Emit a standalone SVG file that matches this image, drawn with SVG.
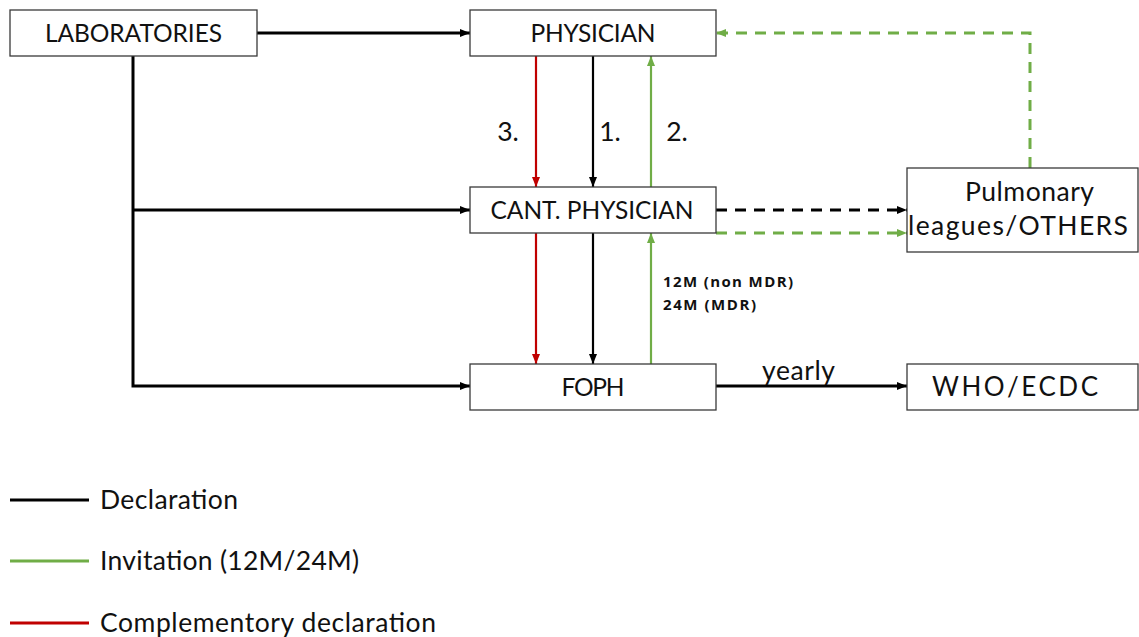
<svg xmlns="http://www.w3.org/2000/svg" width="1139" height="637" viewBox="0 0 1139 637">
<style>
.box{fill:#fff;stroke:#3a3a3a;stroke-width:1.3}
.t{font-family:Lato,"Liberation Sans",sans-serif;font-size:24.5px;fill:#111;text-anchor:middle}
.tm{font-family:Lato,"Liberation Sans",sans-serif;font-size:26.5px;fill:#111;text-anchor:middle}
.lt{font-family:Lato,"Liberation Sans",sans-serif;font-size:26.5px;fill:#111}
.s{font-family:"Open Sans","Liberation Sans",sans-serif;font-size:15px;font-weight:bold;fill:#111}
.k{stroke:#000;fill:none}
.g{stroke:#70ad47;fill:none}
.r{stroke:#c00000;fill:none}
</style>
<defs>
<marker id="ak" viewBox="0 0 10 10" refX="10" refY="5" markerWidth="10" markerHeight="10" markerUnits="userSpaceOnUse" orient="auto"><path d="M0,1 L10,5 L0,9 z" fill="#000"/></marker>
<marker id="ag" viewBox="0 0 10 10" refX="10" refY="5" markerWidth="10" markerHeight="10" markerUnits="userSpaceOnUse" orient="auto"><path d="M0,1 L10,5 L0,9 z" fill="#70ad47"/></marker>
<marker id="ar" viewBox="0 0 10 10" refX="10" refY="5" markerWidth="10" markerHeight="10" markerUnits="userSpaceOnUse" orient="auto"><path d="M0,1 L10,5 L0,9 z" fill="#c00000"/></marker>
</defs>
<g id="connectors">
<path class="k" stroke-width="3" d="M257,33 H470" marker-end="url(#ak)"/>
<path class="k" stroke-width="3" d="M133,56 V386 H470" marker-end="url(#ak)"/>
<path class="k" stroke-width="3" d="M133,210 H470" marker-end="url(#ak)"/>
<path class="r" stroke-width="2.2" d="M536,56 V187" marker-end="url(#ar)"/>
<path class="k" stroke-width="2.2" d="M593,56 V187" marker-end="url(#ak)"/>
<path class="g" stroke-width="2.2" d="M651,187 V56" marker-end="url(#ag)"/>
<path class="r" stroke-width="2.2" d="M536,233 V364" marker-end="url(#ar)"/>
<path class="k" stroke-width="2.2" d="M593,233 V364" marker-end="url(#ak)"/>
<path class="g" stroke-width="2.2" d="M651,364 V233" marker-end="url(#ag)"/>
<path class="k" stroke-width="3" stroke-dasharray="11,8" d="M716,210 H907" marker-end="url(#ak)"/>
<path class="g" stroke-width="3" stroke-dasharray="11,8" d="M716,233 H907" marker-end="url(#ag)"/>
<path class="g" stroke-width="3" stroke-dasharray="11,8" d="M1030,168 V33 H716" marker-end="url(#ag)"/>
<path class="k" stroke-width="3" d="M716,386 H907" marker-end="url(#ak)"/>
<text class="lt" x="508" y="141" text-anchor="middle">3.</text>
<text class="lt" x="610" y="141" text-anchor="middle">1.</text>
<text class="lt" x="677" y="141" text-anchor="middle">2.</text>
<text class="s" x="663" y="287" textLength="130" lengthAdjust="spacing">12M (non MDR)</text>
<text class="s" x="663" y="310" textLength="93" lengthAdjust="spacing">24M (MDR)</text>
<text class="lt" x="762" y="380" textLength="73" lengthAdjust="spacing">yearly</text>
</g>
<g id="laboratories"><rect class="box" x="10" y="10" width="247" height="46"/><text class="t" x="133.5" y="42" textLength="177" lengthAdjust="spacing">LABORATORIES</text></g>
<g id="physician"><rect class="box" x="470" y="10" width="246" height="46"/><text class="t" x="593" y="42" textLength="125" lengthAdjust="spacing">PHYSICIAN</text></g>
<g id="cant-physician"><rect class="box" x="470" y="187" width="246" height="46"/><text class="t" x="592" y="219" textLength="203" lengthAdjust="spacing">CANT. PHYSICIAN</text></g>
<g id="foph"><rect class="box" x="470" y="364" width="246" height="46"/><text class="t" x="593" y="396" textLength="63" lengthAdjust="spacing">FOPH</text></g>
<g id="pulmonary"><rect class="box" x="907" y="168" width="231" height="84"/><text class="tm" x="1029.5" y="201" textLength="129" lengthAdjust="spacing">Pulmonary</text><text class="tm" x="1018" y="235" textLength="220" lengthAdjust="spacing">leagues/OTHERS</text></g>
<g id="who-ecdc"><rect class="box" x="907" y="364" width="231" height="46"/><text class="t" style="font-size:26px" x="1015" y="396" textLength="166" lengthAdjust="spacing">WHO/ECDC</text></g>
<g id="legend">
<line x1="10" y1="500" x2="89" y2="500" stroke="#000" stroke-width="3"/>
<text class="lt" x="100" y="509" textLength="138" lengthAdjust="spacing">Declaration</text>
<line x1="10" y1="561" x2="89" y2="561" stroke="#70ad47" stroke-width="3"/>
<text class="lt" x="100" y="570" textLength="259" lengthAdjust="spacing">Invitation (12M/24M)</text>
<line x1="10" y1="623" x2="89" y2="623" stroke="#c00000" stroke-width="3"/>
<text class="lt" x="100" y="632" textLength="336" lengthAdjust="spacing">Complementory declaration</text>
</g>
</svg>
